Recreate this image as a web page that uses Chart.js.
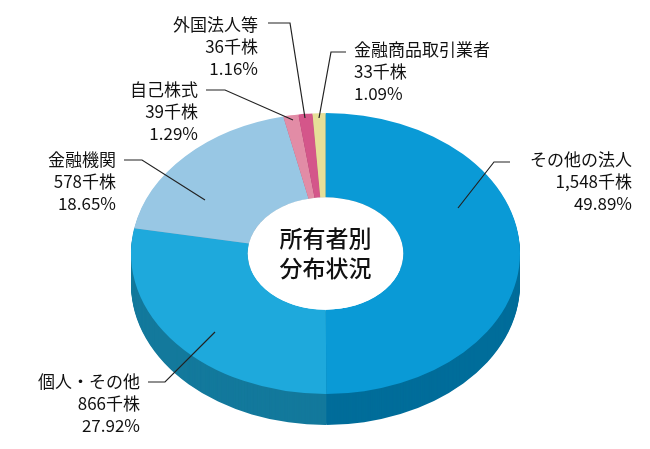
<!DOCTYPE html>
<html><head><meta charset="utf-8">
<script src="https://cdn.jsdelivr.net/npm/chart.js@4"></script>
<style>html,body{margin:0;padding:0;background:#fff}#w{width:650px;height:449px}</style>
</head><body><div id="w"><canvas id="c"></canvas></div>
<script>
const categories = ['その他の法人','個人・その他','金融機関','自己株式','外国法人等','金融商品取引業者'];
const shares = [1548, 866, 578, 39, 36, 33];
const shareLabels = ['1,548千株','866千株','578千株','39千株','36千株','33千株'];
const percents = ['49.89%','27.92%','18.65%','1.29%','1.16%','1.09%'];
const topColors = ['#0a9ad6','#1ea9dc','#98c7e4','#e28ca6','#d4568a','#e6df98'];
const sideColors = ['#006d9a','#13799c','#6e95ad','#a9647a','#9c3d66','#aaa46c'];

const K = 0.722, DEPTH = 31;
const labelPos = [
  {x:632,y:160,align:'right',line:[[458,208],[494,162],[510,162]]},
  {x:140,y:382,align:'right',line:[[215,332],[165,382],[148,382]]},
  {x:116,y:160,align:'right',line:[[205,200],[142,160],[124,160]]},
  {x:198,y:90,align:'right',line:[[293,120],[225,90],[206,90]]},
  {x:258,y:25,align:'right',line:[[305,118],[290,23],[268,23]]},
  {x:354,y:50,align:'left',line:[[319,118],[331,52],[346,52]]}
];

const threeD = {
  id:'threeD',
  beforeDatasetsDraw(chart){
    const ctx = chart.ctx, meta = chart.getDatasetMeta(0);
    const a0 = meta.data[0], cx = a0.x, cy = a0.y;
    ctx.save();
    ctx.translate(cx, cy); ctx.scale(1, K); ctx.translate(-cx, -cy);
    for (let d = DEPTH; d >= 1; d--) {
      const off = d / K;
      meta.data.forEach((arc, i) => {
        ctx.beginPath();
        ctx.arc(arc.x, arc.y + off, arc.outerRadius, arc.startAngle, arc.endAngle);
        ctx.arc(arc.x, arc.y + off, arc.innerRadius, arc.endAngle, arc.startAngle, true);
        ctx.closePath();
        ctx.fillStyle = sideColors[i];
        ctx.fill();
      });
    }
    // keep transform for top layer
  },
  afterDatasetsDraw(chart){
    const ctx = chart.ctx, meta = chart.getDatasetMeta(0);
    const a0 = meta.data[0];
    ctx.beginPath();
    ctx.arc(a0.x, a0.y, a0.innerRadius, 0, Math.PI*2);
    ctx.fillStyle = '#fff'; ctx.fill();
    ctx.restore();
    ctx.save();
    ctx.fillStyle = '#111';
    ctx.font = '500 23px "Noto Sans CJK JP"';
    ctx.textAlign = 'center'; ctx.textBaseline = 'middle';
    ctx.fillText('所有者別', a0.x, 238);
    ctx.fillText('分布状況', a0.x, 268);
    ctx.font = '17px "Noto Sans CJK JP"';
    ctx.strokeStyle = '#222'; ctx.lineWidth = 1.2;
    labelPos.forEach((p, i) => {
      ctx.beginPath();
      ctx.moveTo(p.line[0][0], p.line[0][1]);
      for (let j = 1; j < p.line.length; j++) ctx.lineTo(p.line[j][0], p.line[j][1]);
      ctx.stroke();
      ctx.textAlign = p.align;
      [categories[i], shareLabels[i], percents[i]].forEach((t, j) => ctx.fillText(t, p.x, p.y + j*22));
    });
    ctx.restore();
  }
};

new Chart(document.getElementById('c'), {
  type:'doughnut',
  data:{labels:categories, datasets:[{data:shares, backgroundColor:topColors, borderWidth:0}]},
  options:{
    responsive:true, maintainAspectRatio:false, animation:false,
    cutout:'40%', rotation:0,
    layout:{padding:{left:131,right:130,top:59,bottom:1}},
    plugins:{legend:{display:false}, tooltip:{enabled:false}}
  },
  plugins:[threeD]
});
</script></body></html>
